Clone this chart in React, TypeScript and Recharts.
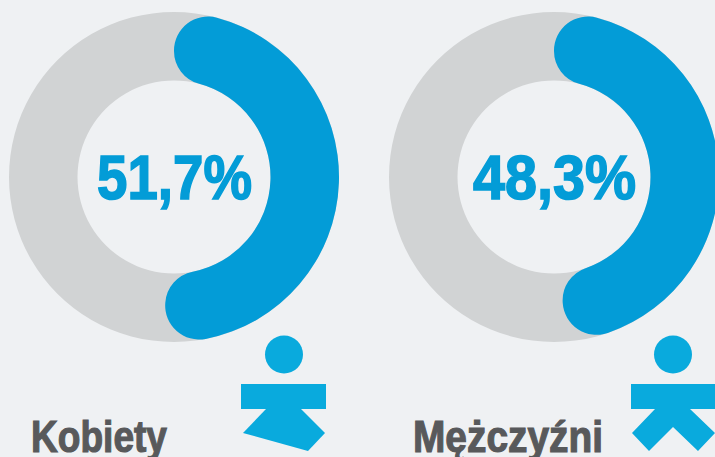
import React from 'react';
import { PieChart, Pie, Cell } from 'recharts';

// drawn arcs sit a little closer to 50/50 than the printed labels
const womenShare = [51.1, 48.9];
const menShare = [48.9, 51.1];
const fullRing = [100];
const womenLabel = '51,7%';
const menLabel = '48,3%';

const BLUE = '#039cd7';
const ICON = '#09aadd';
const GREY = '#d1d3d4';
const TEXT = '#58595b';
const FONT = '"Liberation Sans Narrow", "Liberation Sans", sans-serif';

const ringProps = {
  dataKey: 'value',
  cy: 177,
  innerRadius: 96.5,
  outerRadius: 165,
  startAngle: 90,
  endAngle: -270,
  stroke: 'none',
  isAnimationActive: false,
};

const toRows = (values: number[]) => values.map((value) => ({ value }));

export default function App() {
  return (
    <div style={{ position: 'absolute', left: 0, top: 0, width: 715, height: 457, background: '#eff1f3', overflow: 'hidden' }}>
      <PieChart width={715} height={457} margin={{ top: 0, right: 0, bottom: 0, left: 0 }}>
        <Pie {...ringProps} data={toRows(fullRing)} cx={174} fill={GREY} />
        <Pie {...ringProps} data={toRows(womenShare)} cx={174} cornerRadius={34}>
          <Cell fill={BLUE} />
          <Cell fill="none" />
        </Pie>
        <Pie {...ringProps} data={toRows(fullRing)} cx={554} fill={GREY} />
        <Pie {...ringProps} data={toRows(menShare)} cx={554} cornerRadius={34}>
          <Cell fill={BLUE} />
          <Cell fill="none" />
        </Pie>

        <text x={97} y={199} fontFamily={FONT} fontWeight={700} fontSize={63} fill={BLUE} stroke={BLUE} strokeWidth={1.6} textLength={155} lengthAdjust="spacingAndGlyphs">
          {womenLabel}
        </text>
        <text x={473} y={199} fontFamily={FONT} fontWeight={700} fontSize={63} fill={BLUE} stroke={BLUE} strokeWidth={1.6} textLength={163} lengthAdjust="spacingAndGlyphs">
          {menLabel}
        </text>
        <text x={31} y={452} fontFamily={FONT} fontWeight={700} fontSize={45} fill={TEXT} stroke={TEXT} strokeWidth={1.2} textLength={136} lengthAdjust="spacingAndGlyphs">
          Kobiety
        </text>
        <text x={413} y={452} fontFamily={FONT} fontWeight={700} fontSize={45} fill={TEXT} stroke={TEXT} strokeWidth={1.2} textLength={190} lengthAdjust="spacingAndGlyphs">
          Mężczyźni
        </text>

        <circle cx={284} cy={354.5} r={19} fill={ICON} />
        <rect x={241} y={384} width={85} height={25} fill={ICON} />
        <polygon points="266,409 243,433 308,451 325,433 301,409" fill={ICON} />

        <circle cx={673} cy={354.5} r={19} fill={ICON} />
        <rect x={631} y={384} width={85} height={25} fill={ICON} />
        <polygon points="655,409 632,433 649,451 673,427 698,451 715,433 690,409" fill={ICON} />
      </PieChart>
    </div>
  );
}
